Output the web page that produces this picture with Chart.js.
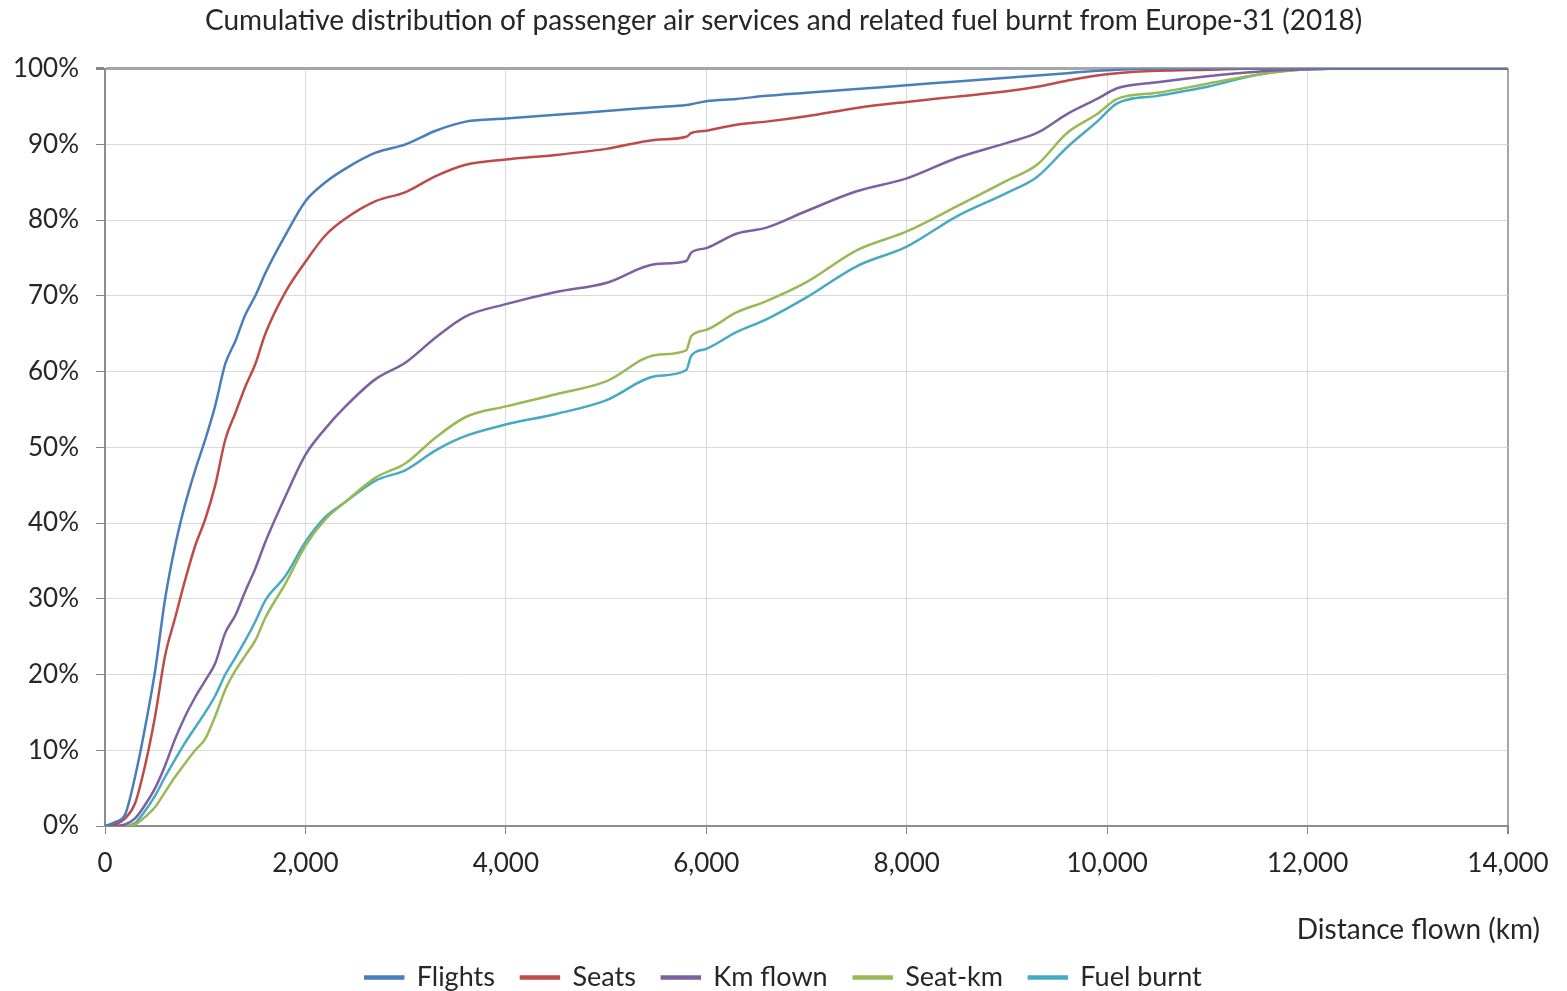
<!DOCTYPE html>
<html>
<head>
<meta charset="utf-8">
<script src="https://cdn.jsdelivr.net/npm/chart.js@4/dist/chart.umd.min.js"></script>
<style>
  html, body { margin: 0; padding: 0; background: #fff; }
  #wrap { width: 1567px; height: 991px; }
</style>
</head>
<body>
<div id="wrap"><canvas id="cdf"></canvas></div>
<script>
const distanceKm = [0, 100, 200, 300, 400, 500, 600, 700, 800, 900, 1000, 1100, 1200, 1300, 1400, 1500, 1600, 1800, 2000, 2200, 2400, 2700, 3000, 3300, 3600, 4000, 4500, 5000, 5500, 5800, 5850, 6000, 6300, 6600, 7000, 7500, 8000, 8500, 9000, 9300, 9600, 9900, 10100, 10500, 11000, 11500, 12000, 12500, 14000];

// cumulative share (%)
const flights   = [0, 0.5, 1.5, 6.5, 13, 20.5, 30, 37, 42.5, 47, 51, 55.5, 61, 64, 67.5, 70, 73, 78, 82.5, 85, 86.8, 88.9, 90, 91.8, 93, 93.4, 93.9, 94.4, 94.9, 95.2, 95.3, 95.7, 96, 96.4, 96.8, 97.3, 97.8, 98.3, 98.8, 99.1, 99.4, 99.7, 99.85, 100, 100, 100, 100, 100, 100];
const seats     = [0, 0.2, 1, 3, 8, 14.5, 22.5, 27.5, 32.5, 37, 40.5, 45, 51, 54.5, 58, 61, 65, 70.5, 74.5, 78, 80.2, 82.5, 83.7, 85.8, 87.3, 88, 88.6, 89.4, 90.6, 91, 91.5, 91.8, 92.6, 93, 93.7, 94.8, 95.6, 96.3, 97, 97.6, 98.4, 99.1, 99.4, 99.7, 99.85, 100, 100, 100, 100];
const kmFlown   = [0, 0, 0.2, 1, 2.8, 5, 8, 11.5, 14.5, 17, 19.2, 21.5, 25.5, 27.8, 31, 34, 37.5, 43.5, 49, 52.5, 55.4, 59, 61.2, 64.5, 67.3, 68.9, 70.5, 71.7, 74.2, 74.6, 75.7, 76.3, 78.2, 79, 81.2, 83.8, 85.5, 88.2, 90.2, 91.5, 94, 96, 97.4, 98.2, 99, 99.6, 99.9, 100, 100];
const seatKm    = [0, 0, 0, 0.2, 1.2, 2.5, 4.5, 6.5, 8.3, 10, 11.5, 14.5, 18, 20.5, 22.5, 24.5, 27.5, 32, 37, 40.5, 42.8, 46, 47.9, 51.3, 54, 55.4, 57, 58.7, 62.2, 62.8, 64.7, 65.5, 67.8, 69.3, 71.8, 76, 78.5, 81.8, 85.2, 87.3, 91.5, 94, 96, 96.8, 98, 99.2, 99.9, 100, 100];
const fuelBurnt = [0, 0, 0, 0.4, 2, 4, 6.5, 8.8, 11, 13, 15, 17.2, 20, 22.2, 24.5, 27, 29.8, 33, 37.5, 40.8, 42.8, 45.6, 47, 49.6, 51.5, 53, 54.4, 56.2, 59.4, 60.2, 62.1, 63, 65.2, 66.9, 69.8, 73.9, 76.5, 80.5, 83.6, 85.7, 89.6, 93, 95.4, 96.4, 97.6, 99.2, 99.9, 100, 100];

const seriesNames = ['Flights', 'Seats', 'Km flown', 'Seat-km', 'Fuel burnt'];
const seriesColors = ['#4a7ebb', '#be4b48', '#7d60a0', '#98b954', '#46aac5'];
const seriesValues = [flights, seats, kmFlown, seatKm, fuelBurnt];

const FONT = 'Lato, "Open Sans", sans-serif';
const TEXT = '#262626';

// axis label sits right of the plot area, so drawn separately
const xAxisLabel = {
  id: 'xAxisLabel',
  afterDraw(chart) {
    const ctx = chart.ctx;
    ctx.save();
    ctx.font = '28px ' + FONT;
    ctx.fillStyle = TEXT;
    ctx.textAlign = 'right';
    ctx.textBaseline = 'middle';
    ctx.fillText('Distance flown (km)', chart.chartArea.right + 32, 930);
    ctx.restore();
  }
};

const datasets = seriesNames.map((name, i) => ({
  label: name,
  data: distanceKm.map((d, j) => ({ x: d, y: seriesValues[i][j] })),
  borderColor: seriesColors[i],
  backgroundColor: seriesColors[i],
  borderWidth: 2.5,
  pointRadius: 0,
  cubicInterpolationMode: 'monotone',
  fill: false
}));

new Chart(document.getElementById('cdf'), {
  type: 'line',
  data: { datasets: datasets },
  plugins: [xAxisLabel],
  options: {
    responsive: true,
    maintainAspectRatio: false,
    animation: false,
    layout: { padding: 0 },
    plugins: {
      title: {
        display: true,
        text: 'Cumulative distribution of passenger air services and related fuel burnt from Europe-31 (2018)',
        color: TEXT,
        font: { family: FONT, size: 28, weight: 'normal' },
        padding: { top: 4, bottom: 31 }
      },
      legend: {
        position: 'bottom',
        maxHeight: 53,
        labels: {
          color: TEXT,
          font: { family: FONT, size: 27 },
          boxWidth: 38,
          boxHeight: 2,
          padding: 26
        }
      },
      tooltip: { enabled: false }
    },
    scales: {
      x: {
        type: 'linear',
        min: 0,
        max: 14000,
        ticks: {
          stepSize: 2000,
          color: TEXT,
          font: { family: FONT, size: 26 },
          padding: 14,
          maxRotation: 0,
          callback: v => v.toLocaleString('en-US')
        },
        grid: {
          color: c => c.tick && c.tick.value === 14000 ? '#a6a6a6' : '#d9d9d9',
          lineWidth: c => c.tick && c.tick.value === 14000 ? 2 : 1,
          tickColor: '#868686',
          tickLength: 8
        },
        border: { color: '#8c8c8c', width: 2 },
        afterFit: s => { s.height = 112; }
      },
      y: {
        min: 0,
        max: 100,
        ticks: {
          stepSize: 10,
          color: TEXT,
          font: { family: FONT, size: 26 },
          padding: 17,
          callback: v => v + '%'
        },
        grid: {
          color: c => c.tick && c.tick.value === 100 ? '#a6a6a6' : '#d9d9d9',
          lineWidth: c => c.tick && c.tick.value === 100 ? 3 : 1,
          tickColor: '#868686',
          tickLength: 9
        },
        border: { color: '#8c8c8c', width: 2 },
        afterFit: s => { s.width = 105; }
      },
      // empty right-hand margin so title and legend centre on the whole page
      yRight: {
        position: 'right',
        ticks: { display: false },
        grid: { display: false, drawTicks: false },
        border: { display: false },
        afterFit: s => { s.width = 59; }
      }
    }
  }
});
</script>
</body>
</html>
